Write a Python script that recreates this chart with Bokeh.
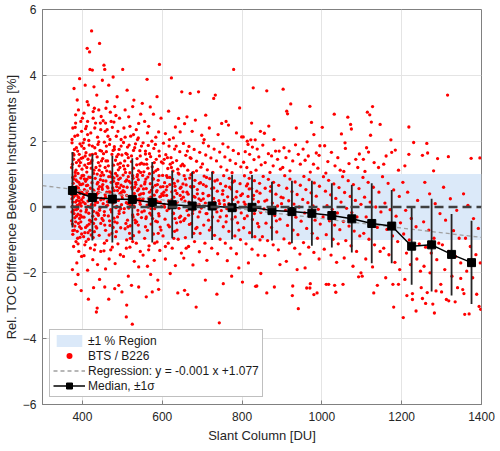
from bokeh.plotting import figure
from bokeh.models import (Legend, LegendItem, FixedTicker, Span,
                          Range1d, ColumnDataSource)
from bokeh.embed import file_html
from bokeh.resources import INLINE

# ---------------- data ----------------
x_limits = [300, 1400]
y_limits = [-6, 6]
x_ticks = [400, 600, 800, 1000, 1200, 1400]
y_ticks = [-6, -4, -2, 0, 2, 4, 6]
region_bounds = [-1, 1]
reg_slope = -0.00143
reg_intercept = 1.077

median_x = [375, 425, 475, 525, 575, 625, 675, 725, 775, 825, 875,
            925, 975, 1025, 1075, 1125, 1175, 1225, 1275, 1325, 1375]
median_y = [0.50, 0.29, 0.24, 0.23, 0.14, 0.07, 0.03, 0.03, -0.02, -0.01, -0.11,
            -0.14, -0.19, -0.26, -0.36, -0.50, -0.58, -1.19, -1.15, -1.44, -1.69]
sigma_upper = [1.67, 1.60, 1.56, 1.48, 1.37, 1.10, 1.07, 1.07, 0.97, 0.97, 0.77,
               0.80, 0.80, 0.72, 0.67, 0.72, 0.52, 0.00, 0.25, -0.21, -0.42]
sigma_lower = [-0.62, -1.02, -1.08, -1.00, -1.08, -0.95, -0.95, -1.00, -0.98, -0.95, -1.02,
               -1.10, -1.18, -1.23, -1.38, -1.71, -1.71, -2.36, -2.57, -2.69, -2.95]

# BTS / B226 individual points (slant column [DU], rel. difference [%])
bts_a = [
    (379, 3.6), (387, 3.25), (393, 3.9), (383, 2.8), (390, 2.95), (376, 2.4), (396, 2.6), (381, 2.15),
    (398, 2.3), (374, 1.95), (385, 1.8), (392, 1.6), (378, 1.45), (395, 1.35), (388, 1.7), (373, 1.2),
    (399, 1.15), (382, 1.05), (376, 0.9), (384, 0.82), (391, 0.75), (397, 0.68), (374, 0.6), (389, 0.55),
    (380, 0.48), (394, 0.41), (386, 0.36), (377, 0.3), (398, 0.22), (383, 0.15), (392, 0.08), (375, 0.02),
    (388, -0.05), (396, -0.12), (379, -0.2), (385, -0.28), (393, -0.35), (373, -0.42), (390, -0.5),
    (381, -0.58), (397, -0.65), (387, -0.74), (376, -0.83), (394, -0.92), (384, -1.05), (378, -1.2),
    (391, -1.35), (398, -1.5), (386, -1.7), (375, -1.9), (383, -2.35), (397, -2.54), (389, -2.05),
    (382, 0.95), (395, 0.12), (378, -0.1), (390, 0.3), (385, 0.62), (399, -0.3), (374, 0.25), (393, 0.5),
    (380, -0.7), (387, 0.05), (377, 0.72), (392, 0.18), (383, -0.45), (396, 0.88), (374, -0.15),
    (389, 1.02), (380, 0.34), (398, -0.82), (386, 0.57), (375, 1.3), (393, -0.6), (381, 0.0),
    (388, -0.95), (399, 0.44), (379, 1.58),
    (423, 5.35), (412, 4.82), (418, 4.71), (443, 4.97), (419, 4.18), (425, 4.16), (407, 3.7), (429, 3.65),
    (436, 3.4), (415, 3.1), (441, 2.95), (404, 2.85), (427, 2.7), (433, 2.55), (410, 2.45), (446, 2.35),
    (421, 2.25), (438, 2.12), (405, 2.05), (430, 3.0), (447, 2.75), (413, 2.6), (402, 1.95), (417, 1.88),
    (431, 1.8), (444, 1.72), (409, 1.65), (425, 1.6), (437, 1.52), (414, 1.45), (448, 1.4), (420, 1.33),
    (406, 1.27), (434, 1.2), (442, 1.12), (411, 1.06), (428, 1.02), (439, 1.9), (401, 1.5), (423, 1.38),
    (403, 0.96), (416, 0.91), (432, 0.87), (445, 0.83), (408, 0.78), (424, 0.74), (437, 0.7), (413, 0.66),
    (449, 0.61), (420, 0.57), (405, 0.53), (429, 0.49), (441, 0.45), (411, 0.41), (435, 0.37), (418, 0.33),
    (402, 0.29), (447, 0.26), (426, 0.22), (414, 0.18), (438, 0.14), (407, 0.1), (431, 0.06), (421, 0.02),
    (444, -0.03), (410, -0.08), (428, -0.13), (416, -0.19), (440, -0.25), (404, -0.31), (433, -0.37),
    (422, -0.44), (446, -0.5), (412, -0.57), (436, -0.64), (419, -0.71), (406, -0.78), (442, -0.86),
    (427, -0.93), (415, -0.98), (409, -1.05), (432, -1.15), (420, -1.25), (446, -1.35), (404, -1.48),
    (426, -1.6), (438, -1.75), (413, -1.92), (435, -3.19), (437, -3.07), (415, -2.8), (443, -2.2),
    (428, -2.45), (401, 0.7), (414, 0.02), (427, 0.52), (439, -0.2), (446, 0.95), (408, -0.62),
    (422, 1.18), (433, 0.15), (418, -0.4), (404, 0.38), (443, 0.62), (411, 0.84), (430, -0.75),
    (436, 0.28), (421, -0.02), (449, -0.35), (407, 1.55), (425, 1.85), (440, 1.35), (413, 2.2),
    (456, 4.18), (454, 4.31), (477, 3.95), (450, 3.85), (466, 3.7), (487, 3.35), (462, 3.2), (481, 3.05),
    (470, 2.88), (493, 2.7), (458, 2.55), (475, 2.42), (489, 2.3), (464, 2.15), (497, 2.05), (452, 2.62),
    (484, 2.78), (455, 1.97), (468, 1.9), (480, 1.83), (492, 1.75), (460, 1.68), (474, 1.6), (486, 1.53),
    (451, 1.47), (463, 1.4), (495, 1.33), (478, 1.27), (457, 1.2), (490, 1.13), (469, 1.07), (483, 1.02),
    (499, 1.58), (453, 0.97), (466, 0.92), (479, 0.88), (491, 0.84), (459, 0.79), (472, 0.75), (485, 0.71),
    (497, 0.66), (462, 0.62), (476, 0.58), (450, 0.54), (488, 0.5), (467, 0.46), (494, 0.41), (457, 0.37),
    (481, 0.33), (470, 0.29), (453, 0.24), (490, 0.2), (463, 0.16), (477, 0.12), (498, 0.07), (460, 0.03),
    (484, -0.02), (471, -0.08), (455, -0.14), (492, -0.2), (465, -0.27), (479, -0.34), (452, -0.41),
    (487, -0.48), (469, -0.56), (496, -0.63), (458, -0.71), (474, -0.8), (483, -0.9), (461, -1.02),
    (489, -1.12), (475, -1.22), (454, -1.33), (495, -1.45), (467, -1.58), (482, -1.72), (458, -1.88),
    (466, -2.8), (456, -2.43), (481, -2.48), (491, -2.38), (499, -2.58), (451, 0.68), (463, 0.05),
    (476, 0.9), (488, -0.3), (499, 0.35), (456, -0.55), (470, 0.45), (482, 0.2), (494, 1.2), (459, 1.4),
    (473, -0.15), (486, 0.62), (452, 0.1), (467, -0.85), (480, 1.75), (496, -0.05), (462, 2.35), (478, 0.78),
]

bts_b = [
    (501, 4.18), (512, 3.55), (529, 3.25), (516, 2.74), (541, 2.54), (507, 2.95), (535, 2.35), (521, 2.15),
    (546, 2.82), (504, 2.4), (526, 3.05), (538, 2.05), (503, 1.96), (517, 1.88), (531, 1.8), (544, 1.71),
    (509, 1.63), (523, 1.55), (537, 1.47), (506, 1.4), (548, 1.33), (514, 1.26), (528, 1.18), (541, 1.1),
    (519, 1.04), (533, 1.92), (502, 0.97), (515, 0.92), (527, 0.87), (540, 0.83), (508, 0.78), (521, 0.73),
    (534, 0.69), (547, 0.64), (512, 0.6), (525, 0.55), (538, 0.5), (505, 0.46), (530, 0.41), (543, 0.37),
    (518, 0.32), (500, 0.27), (536, 0.23), (523, 0.18), (510, 0.13), (545, 0.08), (529, 0.03), (516, -0.03),
    (539, -0.1), (504, -0.17), (526, -0.24), (548, -0.32), (513, -0.4), (533, -0.48), (520, -0.57),
    (507, -0.66), (542, -0.76), (528, -0.87), (511, -1.0), (535, -1.1), (519, -1.22), (545, -1.35),
    (503, -1.5), (530, -1.65), (541, -1.82), (511, -2.98), (510, -3.34), (525, -3.56), (523, -2.38),
    (541, -2.43), (515, -2.1), (503, 0.62), (514, 0.1), (526, 0.95), (539, -0.22), (547, 0.4),
    (509, -0.5), (521, 0.3), (533, 0.75), (544, 1.3), (506, 1.15), (518, -0.8), (530, 0.0), (541, 0.55),
    (512, 1.6), (536, -0.45),
    (593, 4.33), (562, 3.88), (587, 3.35), (550, 3.15), (570, 3.04), (591, 2.28), (556, 2.6), (578, 2.82),
    (566, 2.45), (584, 2.12), (597, 2.7), (552, 1.95), (565, 1.87), (579, 1.78), (592, 1.7), (558, 1.61),
    (571, 1.53), (585, 1.45), (598, 1.37), (561, 1.3), (575, 1.22), (589, 1.14), (554, 1.07), (568, 1.01),
    (551, 0.96), (564, 0.91), (577, 0.86), (590, 0.81), (557, 0.76), (570, 0.71), (583, 0.66), (596, 0.61),
    (560, 0.56), (573, 0.51), (586, 0.46), (553, 0.41), (580, 0.36), (594, 0.31), (566, 0.26), (550, 0.21),
    (588, 0.16), (575, 0.11), (562, 0.06), (598, 0.01), (581, -0.05), (555, -0.12), (569, -0.19),
    (592, -0.27), (559, -0.35), (584, -0.43), (572, -0.52), (595, -0.61), (563, -0.71), (578, -0.82),
    (556, -0.95), (587, -1.06), (567, -1.18), (594, -1.32), (552, -1.46), (580, -1.62), (563, -1.8),
    (560, -2.73), (575, -2.58), (591, -2.5), (589, -2.22), (571, -2.05), (553, 0.55), (565, 0.0),
    (578, 0.85), (591, -0.2), (599, 0.4), (558, -0.6), (571, 0.3), (584, 1.1), (595, 0.15), (561, 1.45),
    (576, -0.35), (588, 0.68),
    (623, 3.92), (616, 2.91), (641, 2.69), (633, 2.43), (645, 2.28), (608, 2.23), (649, 3.5), (628, 2.1),
    (603, 1.94), (617, 1.85), (631, 1.76), (644, 1.68), (609, 1.59), (622, 1.5), (636, 1.41), (602, 1.33),
    (647, 1.25), (614, 1.17), (627, 1.09), (640, 1.03), (601, 0.96), (613, 0.9), (626, 0.85), (639, 0.79),
    (606, 0.74), (619, 0.68), (632, 0.63), (645, 0.57), (610, 0.52), (624, 0.46), (637, 0.41), (603, 0.35),
    (629, 0.3), (648, 0.24), (616, 0.19), (634, 0.13), (605, 0.08), (621, 0.02), (642, -0.04), (612, -0.11),
    (628, -0.19), (646, -0.28), (607, -0.37), (636, -0.48), (618, -0.6), (631, -0.74), (602, -0.88),
    (640, -0.98), (615, -1.1), (625, -1.25), (648, -1.4), (608, -1.58), (633, -1.78), (639, -2.61),
    (620, -2.02), (604, 0.45), (617, -0.05), (630, 0.72), (643, -0.32), (611, 0.95), (624, 0.22),
    (637, -0.7), (647, 0.6), (620, 1.3),
    (670, 3.45), (691, 3.5), (662, 2.74), (683, 2.64), (656, 2.53), (699, 2.18), (675, 2.3), (653, 1.93),
    (667, 1.84), (680, 1.75), (694, 1.66), (659, 1.57), (672, 1.48), (686, 1.39), (651, 1.3), (697, 1.21),
    (664, 1.12), (678, 1.05), (655, 0.95), (669, 0.88), (682, 0.81), (696, 0.74), (660, 0.67), (674, 0.6),
    (688, 0.53), (652, 0.46), (665, 0.39), (679, 0.32), (692, 0.25), (657, 0.18), (671, 0.11), (685, 0.04),
    (698, -0.03), (662, -0.11), (676, -0.2), (690, -0.3), (654, -0.41), (668, -0.53), (684, -0.66),
    (695, -0.8), (658, -0.93), (681, -1.05), (666, -1.2), (693, -1.36), (654, -1.55), (677, -1.76),
    (656, -2.53), (664, -2.66), (685, -3.04), (653, 0.3), (666, -0.25), (679, 0.62), (692, 0.08),
    (658, 0.85), (673, -0.5), (688, 0.4),
]

bts_c = [
    (733, 3.4), (729, 3.3), (709, 2.79), (749, 2.54), (718, 2.4), (740, 2.2), (705, 2.05), (703, 1.95),
    (716, 1.85), (730, 1.76), (744, 1.67), (709, 1.58), (722, 1.49), (736, 1.4), (701, 1.31), (747, 1.22),
    (713, 1.13), (727, 1.05), (705, 0.94), (719, 0.86), (732, 0.79), (746, 0.71), (710, 0.63), (724, 0.56),
    (738, 0.48), (702, 0.41), (715, 0.34), (729, 0.26), (742, 0.19), (708, 0.12), (721, 0.05), (735, -0.03),
    (748, -0.11), (712, -0.2), (726, -0.3), (740, -0.42), (704, -0.55), (718, -0.7), (731, -0.86),
    (745, -0.98), (707, -1.1), (724, -1.25), (739, -1.42), (712, -1.62), (708, -2.22), (737, -2.65),
    (743, -3.52), (703, 0.25), (716, -0.4), (729, 0.58), (744, 0.1), (711, 0.9), (737, -0.15),
    (779, 4.18), (794, 3.01), (766, 2.49), (799, 2.13), (760, 2.6), (786, 2.25), (752, 1.92), (765, 1.82),
    (778, 1.72), (791, 1.62), (757, 1.52), (770, 1.42), (784, 1.32), (797, 1.22), (762, 1.12), (775, 1.04),
    (754, 0.95), (768, 0.87), (781, 0.79), (795, 0.71), (759, 0.63), (773, 0.55), (787, 0.47), (751, 0.39),
    (764, 0.31), (777, 0.23), (790, 0.15), (756, 0.07), (770, -0.01), (784, -0.09), (798, -0.18),
    (761, -0.27), (775, -0.37), (789, -0.48), (753, -0.6), (767, -0.74), (782, -0.88), (796, -0.99),
    (758, -1.1), (772, -1.25), (786, -1.42), (763, -1.63), (753, -2.33), (774, -2.1), (792, -1.85),
    (755, 0.2), (769, 0.6), (783, -0.3), (797, 0.35), (762, -0.05),
    (828, 3.62), (824, 2.55), (803, 2.13), (813, 2.0), (822, 2.04), (833, 2.04), (846, 2.3), (815, 1.9),
    (826, 1.82), (838, 1.76), (808, 1.68), (819, 1.6), (842, 1.52), (830, 1.44), (804, 1.36), (848, 1.28),
    (812, 1.2), (835, 1.12), (822, 1.05), (806, 0.95), (818, 0.87), (831, 0.8), (844, 0.72), (811, 0.64),
    (824, 0.56), (837, 0.48), (801, 0.4), (815, 0.32), (828, 0.24), (841, 0.16), (808, 0.08), (821, 0.0),
    (834, -0.08), (847, -0.17), (813, -0.27), (826, -0.38), (839, -0.5), (804, -0.63), (819, -0.78),
    (832, -0.9), (845, -1.0), (810, -1.12), (825, -1.28), (840, -1.46), (816, -1.7), (834, -2.41),
    (847, -2.02), (837, -2.4), (801, -2.28), (805, 0.15), (818, 0.55), (831, -0.2), (845, 0.42),
    (862, 3.53), (867, 2.46), (856, 2.24), (880, 2.05), (884, 1.7), (893, 1.7), (874, 1.55), (852, 1.88),
    (866, 1.62), (889, 1.45), (858, 1.35), (878, 1.25), (896, 1.15), (870, 1.05), (853, 0.93), (866, 0.84),
    (879, 0.75), (892, 0.66), (858, 0.57), (871, 0.48), (885, 0.39), (898, 0.3), (862, 0.21), (876, 0.12),
    (889, 0.03), (855, -0.06), (868, -0.16), (882, -0.26), (895, -0.37), (860, -0.49), (874, -0.62),
    (887, -0.76), (851, -0.9), (864, -1.02), (878, -1.15), (891, -1.3), (857, -1.48), (881, -2.43),
    (862, -2.61), (895, -1.75),
    (903, 3.58), (922, 3.13), (912, 2.91), (914, 2.83), (936, 2.4), (934, 1.89), (905, 1.8), (918, 1.7),
    (941, 1.6), (910, 1.5), (927, 1.4), (946, 1.3), (902, 1.2), (920, 1.1), (907, 0.95), (920, 0.85),
    (933, 0.76), (946, 0.66), (912, 0.57), (925, 0.47), (938, 0.38), (903, 0.28), (917, 0.19), (930, 0.09),
    (943, 0.0), (909, -0.1), (922, -0.2), (935, -0.31), (948, -0.43), (914, -0.56), (928, -0.7),
    (940, -0.84), (905, -0.97), (919, -1.1), (932, -1.25), (945, -1.43), (911, -1.65), (926, -2.69),
    (927, -2.4), (941, -3.09), (938, -1.9),
    (970, 3.06), (974, 2.57), (980, 2.2), (963, 1.98), (953, 1.76), (966, 1.55), (995, 1.86), (986, 1.64),
    (993, 1.57), (958, 1.42), (979, 1.3), (990, 1.18), (971, 1.06), (955, 0.93), (968, 0.83), (981, 0.73),
    (994, 0.63), (960, 0.53), (973, 0.43), (986, 0.33), (952, 0.23), (965, 0.13), (978, 0.03), (991, -0.07),
    (957, -0.18), (970, -0.29), (983, -0.4), (996, -0.52), (962, -0.65), (976, -0.8), (989, -0.95),
    (954, -1.08), (967, -1.22), (980, -1.38), (993, -1.58), (962, -2.46), (970, -2.46), (971, -2.33),
    (980, -2.66), (988, -2.61), (958, -1.85),
]

bts_d = [
    (1001, 2.42), (1031, 2.82), (1049, 2.22), (1007, 1.86), (1024, 1.66), (1040, 1.5), (1015, 1.38),
    (1033, 1.25), (1046, 1.12), (1010, 1.03), (1004, 0.92), (1017, 0.81), (1030, 0.7), (1043, 0.59),
    (1009, 0.48), (1022, 0.37), (1035, 0.26), (1048, 0.15), (1013, 0.04), (1026, -0.07), (1039, -0.18),
    (1003, -0.3), (1019, -0.42), (1032, -0.55), (1045, -0.69), (1011, -0.84), (1028, -0.98), (1041, -1.12),
    (1006, -1.28), (1023, -1.46), (1037, -1.68), (1011, -2.35), (1017, -2.35), (1035, -2.59), (1032, -2.38),
    (1065, 2.73), (1072, 2.51), (1074, 2.37), (1058, 1.95), (1059, 1.78), (1094, 1.61), (1085, 1.45),
    (1068, 1.32), (1090, 1.2), (1055, 1.08), (1052, 0.92), (1066, 0.8), (1079, 0.68), (1093, 0.56),
    (1057, 0.44), (1071, 0.32), (1084, 0.2), (1098, 0.08), (1062, -0.04), (1075, -0.17), (1088, -0.3),
    (1054, -0.44), (1068, -0.58), (1081, -0.73), (1095, -0.88), (1060, -1.02), (1073, -1.18), (1087, -1.35),
    (1056, -1.55), (1078, -1.8), (1053, -2.35), (1092, -2.12), (1098, -2.0),
    (1114, 2.88), (1120, 2.8), (1127, 3.05), (1124, 2.58), (1146, 2.51), (1122, 2.18), (1112, 1.8),
    (1117, 1.67), (1104, 1.45), (1131, 1.35), (1142, 1.2), (1108, 1.08), (1103, 0.9), (1116, 0.75),
    (1129, 0.6), (1143, 0.45), (1107, 0.3), (1121, 0.15), (1135, 0.0), (1148, -0.15), (1111, -0.3),
    (1125, -0.46), (1139, -0.62), (1105, -0.8), (1118, -0.98), (1132, -1.15), (1146, -1.35), (1110, -1.58),
    (1127, -1.82), (1130, -2.61), (1139, -2.38), (1101, -2.1),
    (1173, 2.04), (1161, 1.55), (1175, 1.66), (1184, 1.73), (1155, 1.3), (1192, 1.12), (1152, 0.92),
    (1166, 0.72), (1180, 0.52), (1194, 0.32), (1158, 0.12), (1171, -0.08), (1186, -0.28), (1197, -0.48),
    (1163, -0.68), (1177, -0.88), (1190, -1.05), (1155, -1.25), (1168, -1.45), (1183, -1.68), (1195, -1.9),
    (1180, -3.04), (1178, -2.35), (1192, -2.35), (1160, -2.15),
    (1218, 2.43), (1230, 1.96), (1218, 1.6), (1208, 1.25), (1203, 0.75), (1215, 0.45), (1240, 0.2),
    (1210, -0.1), (1224, -0.35), (1236, -0.6), (1205, -0.82), (1219, -1.0), (1244, -1.12), (1229, -1.25),
    (1212, -1.4), (1238, -1.58), (1222, -1.75), (1247, -1.95), (1204, -3.36), (1213, -2.69), (1227, -2.63),
    (1236, -3.16), (1227, -2.81), (1249, -2.45), (1208, -2.2),
    (1252, 1.57), (1263, 1.93), (1265, 1.64), (1290, 1.47), (1280, 1.1), (1258, 0.75), (1270, 0.4),
    (1284, 0.1), (1296, -0.2), (1255, -0.45), (1268, -0.7), (1281, -0.95), (1293, -1.1), (1260, -1.22),
    (1274, -1.4), (1288, -1.6), (1256, -1.8), (1271, -2.0), (1252, -2.78), (1260, -2.93), (1282, -3.22),
    (1278, -2.95), (1264, -2.6), (1286, -2.55), (1298, -2.35), (1300, -2.58),
    (1315, 3.4), (1317, 1.53), (1305, 0.6), (1322, 0.25), (1338, -0.1), (1310, -0.4), (1330, -0.72),
    (1344, -0.95), (1302, -1.15), (1318, -1.35), (1335, -1.5), (1348, -1.7), (1308, -1.9), (1326, -2.1),
    (1312, -2.81), (1318, -2.85), (1334, -2.88), (1348, -2.17), (1340, -2.45),
    (1374, 1.48), (1396, 1.49), (1355, 0.4), (1366, 0.05), (1380, -0.35), (1392, -0.65), (1360, -0.95),
    (1372, -1.2), (1386, -1.45), (1397, -1.7), (1363, -1.95), (1378, -2.15), (1358, -3.26), (1369, -3.25),
    (1388, -2.65), (1394, -3.02), (1398, -3.11), (1353, -2.51), (1356, -2.63),
]

# extra points of the densest part of the cloud
bts_e = [
    (373, 0.38), (378, 0.85), (381, -0.33), (384, 1.12), (386, 0.2), (389, -0.22), (391, 1.42), (394, 0.68),
    (397, 0.03), (399, 0.95), (375, -0.52), (380, 1.75), (385, -0.08), (390, 0.58), (396, -0.45), (376, 0.15),
    (392, 1.25), (387, 0.78), (383, 2.55), (398, 1.85),
    (402, 0.15), (405, 0.85), (409, -0.15), (412, 0.48), (415, 1.32), (417, -0.52), (420, 0.9), (423, 0.08),
    (426, -0.28), (429, 1.12), (432, 0.35), (434, -0.6), (437, 1.0), (440, 0.55), (443, -0.1), (446, 0.22),
    (448, 1.7), (403, -0.9), (419, 1.58), (431, 2.4), (444, 1.25), (410, 0.65), (428, -0.5), (438, 0.42),
    (414, -0.78),
    (452, 0.8), (455, -0.25), (458, 0.3), (461, 1.1), (464, 0.58), (468, -0.42), (471, 0.92), (474, 0.25),
    (477, -0.62), (480, 0.5), (483, 1.42), (486, 0.02), (489, 0.72), (492, -0.12), (495, 0.88), (498, 0.45),
    (460, 1.85), (472, 2.6), (485, -0.75), (490, 1.6),
    (502, 0.5), (505, -0.05), (508, 1.05), (511, 0.35), (514, -0.6), (517, 0.78), (520, 0.05), (523, 1.38),
    (527, -0.3), (531, 0.6), (534, 0.18), (537, 0.92), (540, -0.55), (543, 0.25), (546, 1.05), (549, -0.15),
    (513, 1.82), (528, 2.2), (545, 1.55), (520, -0.95),
    (552, 0.25), (556, 0.7), (560, -0.3), (564, 1.18), (568, 0.45), (572, -0.05), (576, 0.6), (580, 1.35),
    (584, 0.2), (588, -0.45), (592, 0.95), (596, 0.32), (558, 1.7), (574, 2.0), (590, -0.8),
    (602, 0.62), (606, 0.0), (611, 0.35), (615, -0.55), (619, 0.9), (623, 1.2), (628, -0.2), (633, 0.5),
    (638, 0.15), (642, 1.0), (646, -0.45), (613, 1.5), (635, 1.85),
    (652, 0.7), (657, -0.35), (662, 0.45), (667, 0.15), (672, 0.98), (677, -0.1), (682, 0.3), (687, -0.62),
    (693, 0.72), (697, 0.2), (670, 1.5),
    (703, 0.68), (710, -0.2), (717, 0.35), (723, -0.62), (731, 0.15), (738, 0.82), (745, -0.3), (752, 0.5),
    (760, -0.45), (767, 0.1), (776, 0.75), (785, 0.3), (792, -0.7), (806, -0.35), (814, 0.7), (829, 0.35),
    (842, -0.6), (857, 0.18), (872, 0.62), (886, -0.42), (899, 0.1),
]

bts_f = [
    (374, 2.05), (377, 1.62), (382, 2.42), (385, 1.35), (388, 2.18), (391, 0.28), (394, 1.92), (397, 1.48),
    (400, 2.7), (376, -0.72), (389, -1.12), (395, -0.25),
    (404, 1.78), (408, 2.38), (411, 1.2), (416, 2.02), (419, 0.38), (424, 1.42), (427, 2.9), (433, 1.62),
    (436, -0.18), (441, 1.98), (445, 2.55), (449, 1.05), (406, -1.15), (422, -0.85), (439, 0.75), (412, 3.2),
    (430, -1.3),
    (453, 1.62), (457, 2.3), (461, 0.45), (465, 1.25), (469, 2.05), (473, 1.02), (477, 1.72), (481, -0.45),
    (485, 2.15), (489, 1.3), (493, 0.58), (497, 1.85), (455, -1.1), (471, -1.3), (487, 0.95), (459, 3.0),
    (479, 2.58),
    (503, 1.25), (507, 2.12), (511, 0.82), (515, 1.5), (519, 2.45), (524, 0.6), (528, 1.72), (532, -0.4),
    (536, 1.28), (540, 2.1), (544, 0.15), (548, 1.85), (510, -1.25), (526, -1.05), (538, 0.98),
    (554, 1.3), (559, 0.85), (563, 2.25), (568, 1.62), (573, -0.25), (578, 1.05), (583, 1.9), (587, 0.5),
    (593, 1.55), (597, -0.7), (566, -1.3), (581, -1.1),
    (605, 1.45), (612, 0.62), (618, 2.05), (626, 1.35), (632, -0.35), (639, 1.15), (645, 0.35), (608, -1.2),
    (629, -0.95),
    (655, 1.25), (663, 1.7), (671, 0.62), (679, -0.8), (686, 1.1), (694, -0.15), (660, -1.25),
]

# ---------------- figure ----------------
FONT = "Liberation Sans"
AXIS_GRAY = "#808080"
TEXT_DARK = "#262626"

p = figure(width=498, height=449,
           x_range=Range1d(x_limits[0], x_limits[1]),
           y_range=Range1d(y_limits[0], y_limits[1]),
           output_backend="svg", toolbar_location=None,
           min_border_left=40, min_border_right=17,
           min_border_top=9, min_border_bottom=45,
           x_axis_label="Slant Column [DU]",
           y_axis_label="Rel. TOC Difference Between Instruments [%]")
p.background_fill_color = "white"
p.border_fill_color = "white"
p.outline_line_color = AXIS_GRAY
p.outline_line_width = 1

for ax, ticks in ((p.xaxis[0], x_ticks), (p.yaxis[0], y_ticks)):
    ax.ticker = FixedTicker(ticks=ticks)
    ax.axis_line_color = AXIS_GRAY
    ax.major_tick_line_color = AXIS_GRAY
    ax.major_tick_in = 4
    ax.major_tick_out = 0
    ax.minor_tick_line_color = None
    ax.major_label_text_font = FONT
    ax.major_label_text_font_size = "12px"
    ax.major_label_text_color = TEXT_DARK
    ax.axis_label_text_font = FONT
    ax.axis_label_text_font_size = "13px"
    ax.axis_label_text_font_style = "normal"
    ax.axis_label_text_color = TEXT_DARK
p.xaxis[0].major_label_standoff = 7
p.xaxis[0].axis_label_standoff = 4
p.yaxis[0].major_label_standoff = 6
p.yaxis[0].axis_label_standoff = 1

p.xgrid.ticker = FixedTicker(ticks=x_ticks)
p.ygrid.ticker = FixedTicker(ticks=y_ticks)
p.grid.grid_line_color = "#e4e4e4"
p.grid.grid_line_width = 1

# +-1 % region
band = p.quad(left=[x_limits[0]], right=[x_limits[1]],
              bottom=[region_bounds[0]], top=[region_bounds[1]],
              fill_color="#dbe9f9", line_color=None)

# scatter
pts = bts_a + bts_b + bts_c + bts_d + bts_e + bts_f
src = ColumnDataSource(dict(x=[q[0] for q in pts], y=[q[1] for q in pts]))
scat = p.scatter("x", "y", source=src, marker="circle", size=3.3,
                 fill_color="#ff0000", line_color=None)

# zero line
p.add_layout(Span(location=0, dimension="width", line_color="#404040",
                  line_width=2.6, line_dash="9 5"))

# regression line
reg_y = [reg_intercept + reg_slope * xv for xv in x_limits]
reg = p.line(x=x_limits, y=reg_y, line_color="#a0a0a0", line_width=1.3, line_dash="4 3")

# median +- 1 sigma
p.segment(x0=median_x, y0=sigma_lower, x1=median_x, y1=sigma_upper,
          line_color="#262626", line_width=1.8)
med_line = p.line(x=median_x, y=median_y, line_color="black", line_width=1.5)
med_pts = p.scatter(x=median_x, y=median_y, marker="square", size=8,
                    fill_color="black", line_color="black")

reg_label = f"Regression: y = {reg_slope:.3f} x +{reg_intercept:.3f}"
legend = Legend(items=[
    LegendItem(label="\u00b11 % Region", renderers=[band]),
    LegendItem(label="BTS / B226", renderers=[scat]),
    LegendItem(label=reg_label, renderers=[reg]),
    LegendItem(label="Median, \u00b11\u03c3", renderers=[med_line, med_pts]),
], location=(7, 7))
legend.label_text_font = FONT
legend.label_text_font_size = "12px"
legend.label_text_color = "#1a1a1a"
legend.label_height = 15
legend.glyph_height = 15
legend.glyph_width = 32
legend.label_standoff = 3
legend.padding = 3
legend.spacing = 0
legend.margin = 0
legend.border_line_color = AXIS_GRAY
legend.border_line_width = 1
legend.background_fill_color = "white"
legend.background_fill_alpha = 1.0
p.add_layout(legend)

open("out.html", "w").write(file_html(p, INLINE))
